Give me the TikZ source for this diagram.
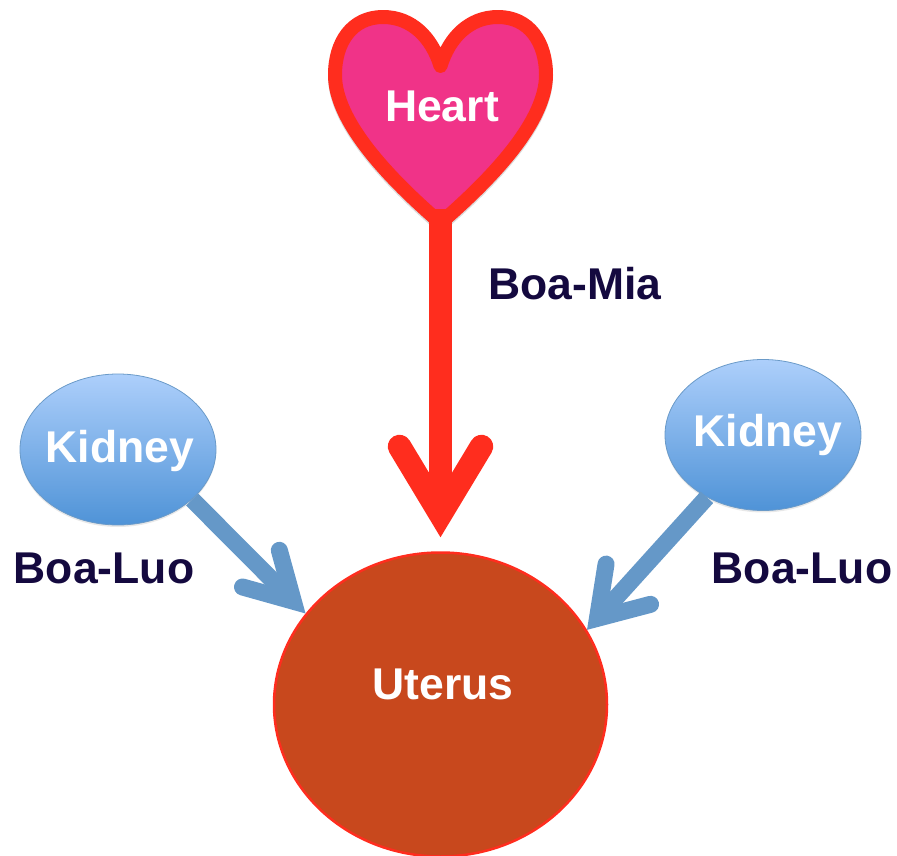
\documentclass[tikz,border=0pt]{standalone}
\usepackage{fontspec}
\setmainfont{Liberation Sans}
\usetikzlibrary{arrows.meta,shapes.geometric,shadows}
\definecolor{heartred}{HTML}{FF2D1E}
\definecolor{heartpink}{HTML}{F03388}
\definecolor{uterusfill}{HTML}{C8481D}
\definecolor{kidtop}{HTML}{ADCFFB}
\definecolor{kidbot}{HTML}{4F93D7}
\definecolor{kidline}{HTML}{6A9AC8}
\definecolor{bluearrow}{HTML}{6598C8}
\definecolor{navy}{HTML}{14093F}
\tikzset{
  whitetext/.style={font=\fontsize{44.5}{44.5}\selectfont\bfseries,text=white,anchor=base,inner sep=0pt},
  darktext/.style={font=\fontsize{44.5}{44.5}\selectfont\bfseries,text=navy,anchor=base,inner sep=0pt},
  kidney/.style={ellipse,minimum width=196pt,minimum height=151pt,inner sep=0pt,draw=kidline,line width=.8pt,
    top color=kidtop,bottom color=kidbot,drop shadow={opacity=.18,shadow xshift=0pt,shadow yshift=-2pt}},
  softshadow/.style={draw=black,opacity=.14,yshift=-2pt},
  arrowshadow/.style={preaction={draw=black,opacity=.14,transform canvas={yshift=-2pt}}},
  bigarrow/.style={arrowshadow,draw=heartred,line width=23.5pt,-{Straight Barb[length=68pt,width=82pt,line width=23.5pt,line cap=round,line join=miter]}},
  bluearr/.style={arrowshadow,draw=bluearrow,line width=17pt,-{Straight Barb[length=46pt,width=#1,line width=17pt,line cap=round,line join=miter]}},
}
\newcommand{\heartpath}{(440.5,66) .. controls (432,38) and (412,17) .. (383,17)
  .. controls (352,17) and (335,42) .. (335,75)
  .. controls (335,120) and (385,175) .. (440.5,223)
  .. controls (496,175) and (546,120) .. (546,75)
  .. controls (546,42) and (529,17) .. (498,17)
  .. controls (469,17) and (449,38) .. (440.5,66) -- cycle}
\begin{document}
\begin{tikzpicture}[x=1pt,y=-1pt]
\useasboundingbox (0,0) rectangle (897,856);
% heart
\draw[softshadow,line width=14pt,line join=round] \heartpath;
\draw[draw=heartred,fill=heartpink,line width=14pt,line join=round] \heartpath;
\coordinate (heartbottom) at (440.5,209);
% shapes
\node[ellipse,minimum width=333pt,minimum height=304pt,inner sep=0pt,draw=heartred,line width=2.5pt,fill=uterusfill] (uterus) at (440.5,704.5) {};
\node[kidney] (kidneyL) at (118,449.5) {};
\node[kidney] (kidneyR) at (763,435) {};
% connectors
\draw[bigarrow,shorten >=14pt] (heartbottom) -- (uterus.north);
\draw[bluearr=52pt] (kidneyL.-34) -- (uterus.146);
\draw[bluearr=60pt] (kidneyR.228) -- (uterus.27);
% texts
\node[whitetext] (heartlabel) at (442,122) {Heart};
\node[whitetext] (uteruslabel) at (443,699) {Uterus};
\node[whitetext] (kidneyLlabel) at (120,462) {Kidney};
\node[whitetext] (kidneyRlabel) at (768,446) {Kidney};
\node[darktext] (boamia) at (575,299) {Boa-Mia};
\node[darktext] (boaluoL) at (104,583) {Boa-Luo};
\node[darktext] (boaluoR) at (802,583) {Boa-Luo};
\end{tikzpicture}
\end{document}
